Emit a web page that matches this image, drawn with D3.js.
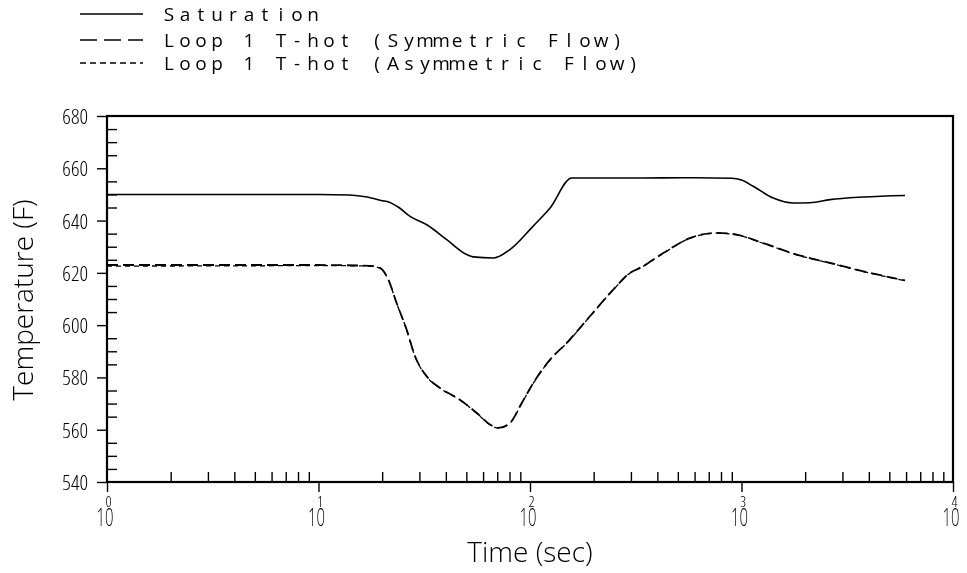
<!DOCTYPE html>
<html><head><meta charset="utf-8">
<script src="https://cdn.jsdelivr.net/npm/d3@7"></script>
<style>
html,body{margin:0;padding:0;background:#fff;}
svg{will-change:transform;}
svg text{font-family:'Open Sans','DejaVu Sans',sans-serif;font-weight:300;fill:#000;}
</style></head><body>
<svg id="chart" width="967" height="573"></svg>
<script>
// ---- data ----
const seriesNames = ["Saturation", "Loop 1 T-hot (Symmetric Flow)", "Loop 1 T-hot (Asymmetric Flow)"];

const satTime = [1, 5, 10, 14, 17, 20, 21.1, 24, 27.1, 32.5, 40.4, 50.2, 53.8, 67.1, 80.4, 103.3, 124.4, 157.4, 300, 600, 899, 1000, 1137, 1413, 1758, 2108, 2620, 3767, 5933];
const satTemp = [650, 650, 650, 649.8, 649, 647.6, 647.3, 645, 641.6, 638.4, 632.7, 627, 626.1, 625.7, 628.9, 637.8, 644.8, 656.3, 656.3, 656.4, 656.2, 655.5, 653.1, 648.6, 646.7, 646.8, 648, 649, 649.6];

const symTime = [1, 5, 10, 17.5, 19.5, 21.4, 23.4, 26.1, 28.6, 32.5, 37.5, 46.6, 56, 64.7, 70.8, 80.4, 91.4, 103.7, 124.4, 149.2, 192, 247.6, 297, 331, 427, 570, 763, 949, 1268, 1824, 2620, 3767, 5933];
const symTemp = [623, 623, 623, 622.7, 621.9, 617.4, 608.5, 598.3, 588.1, 580.4, 576, 571.5, 566.4, 562, 560.7, 562.6, 570.2, 577.9, 586.8, 593.2, 603.4, 613.6, 620, 621.9, 627.6, 633.3, 635.3, 634.6, 631.4, 627, 623.8, 620.6, 617.1];

const asymTime = [1, 5, 10, 17.5, 19.5, 21.4, 23.4, 26.1, 28.6, 32.5, 37.5, 46.6, 56, 64.7, 70.8, 80.4, 91.4, 103.7, 124.4, 149.2, 192, 247.6, 297, 331, 427, 570, 763, 949, 1268, 1824, 2620, 3767, 5933];
const asymTemp = [622.6, 622.7, 622.8, 622.6, 621.8, 617.3, 608.4, 598.2, 588, 580.3, 575.9, 571.4, 566.3, 561.9, 560.6, 562.5, 570.1, 577.8, 586.7, 593.1, 603.3, 613.5, 619.9, 621.8, 627.5, 633.2, 635.2, 634.5, 631.3, 626.9, 623.7, 620.5, 617];

const yTicks = [540, 560, 580, 600, 620, 640, 660, 680];
const xExponents = [0, 1, 2, 3, 4];

// ---- layout ----
const svg = d3.select("#chart");
const L = 107, R = 953, T = 116, B = 482;
const x = d3.scaleLog().domain([1, 1e4]).range([L, R]);
const y = d3.scaleLinear().domain([540, 680]).range([B, T]);

// minor ticks
const yMinor = d3.range(545, 680, 5).filter(v => v % 20 !== 0);
const xMinor = [];
for (let d = 0; d < 4; d++) for (let k = 2; k <= 9; k++) xMinor.push(k * Math.pow(10, d));

const axStyle = g => {
  g.selectAll("path.domain").remove();
  g.selectAll(".tick line").attr("stroke", "#000").attr("stroke-width", 1.4);
};

svg.append("g").attr("transform", `translate(${L},0)`)
  .call(d3.axisLeft(y).tickValues(yMinor).tickSize(-10).tickFormat(""))
  .call(axStyle);
svg.append("g").attr("transform", `translate(0,${B})`)
  .call(d3.axisBottom(x).tickValues(xMinor).tickSize(-10).tickFormat(""))
  .call(axStyle);

const yAx = svg.append("g").attr("transform", `translate(${L},0)`)
  .call(d3.axisLeft(y).tickValues(yTicks).tickSize(10).tickPadding(9).tickFormat(d3.format("d")))
  .call(axStyle);
yAx.selectAll(".tick text").attr("font-size", 21).attr("fill", "#000").attr("dy", "0.36em")
  .attr("font-family", null).style("font-stretch", "87.5%");

const xAx = svg.append("g").attr("transform", `translate(0,${B})`)
  .call(d3.axisBottom(x).tickValues(xExponents.map(e => Math.pow(10, e))).tickSize(10).tickFormat(""))
  .call(axStyle);
xAx.selectAll(".tick").each(function(d, i) {
  const g = d3.select(this);
  g.append("text").attr("x", -2.5).attr("y", 44).attr("text-anchor", "middle").attr("font-size", 26)
    .attr("textLength", 17).attr("lengthAdjust", "spacingAndGlyphs").text("10");
  g.append("text").attr("x", 1).attr("y", 25).attr("text-anchor", "middle")
    .attr("font-size", 15).style("font-stretch", "87.5%").text(xExponents[i]);
});

// frame
svg.append("rect").attr("x", L).attr("y", T).attr("width", R - L).attr("height", B - T)
  .attr("fill", "none").attr("stroke", "#000").attr("stroke-width", 2.2);

// axis titles
svg.append("text").attr("transform", "translate(33,300) rotate(-90)").attr("text-anchor", "middle")
  .attr("font-size", 28).text("Temperature (F)");
svg.append("text").attr("x", 530).attr("y", 562).attr("text-anchor", "middle")
  .attr("font-size", 28).text("Time (sec)");

// lines
const line = d3.line().x(d => x(d[0])).y(d => y(d[1])).curve(d3.curveMonotoneX);
const series = [
  { t: satTime, v: satTemp, dash: null, w: 1.6, legDash: null },
  { t: symTime, v: symTemp, dash: "11,5", w: 1.8, legDash: "17,7" },
  { t: asymTime, v: asymTemp, dash: "5,4", w: 1.3, legDash: "6,4" }
];
series.forEach(s => {
  svg.append("path").datum(s.t.map((t, i) => [t, s.v[i]]))
    .attr("d", line).attr("fill", "none").attr("stroke", "#000")
    .attr("stroke-width", s.w).attr("stroke-dasharray", s.dash);
});

// legend
const legY = [14, 40, 63];
series.forEach((s, i) => {
  svg.append("line").attr("x1", 80).attr("x2", 143).attr("y1", legY[i]).attr("y2", legY[i])
    .attr("stroke", "#000").attr("stroke-width", 1.6).attr("stroke-dasharray", s.legDash);
  const chars = Array.from(seriesNames[i]);
  svg.append("text").attr("y", legY[i] + 7).attr("text-anchor", "middle")
    .attr("x", chars.map((c, j) => 169 + 16 * j).join(" "))
    .attr("font-size", 19).style("font-weight", 400)
    .text(seriesNames[i]);
});
</script>
</body></html>
